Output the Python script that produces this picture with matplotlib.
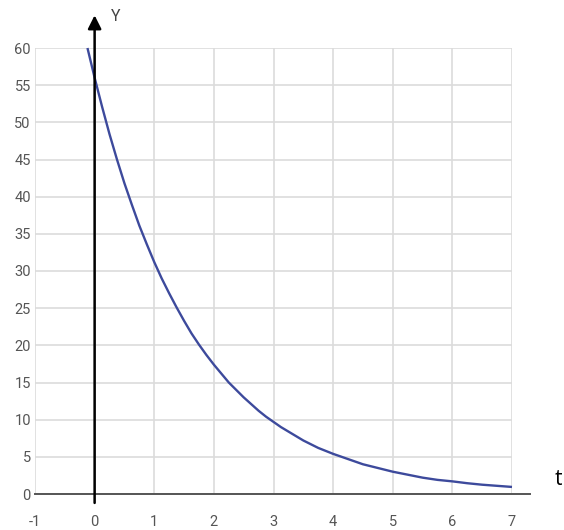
import matplotlib
matplotlib.use('Agg')
import matplotlib.pyplot as plt

plt.rcParams['font.family'] = ['Roboto', 'DejaVu Sans']
plt.rcParams['axes.unicode_minus'] = False

# decay curve, values read at each step of t
t_vals = [-0.12, -0.06, 0, 0.125, 0.25, 0.375, 0.5, 0.625, 0.75, 0.875, 1, 1.125,
          1.25, 1.375, 1.5, 1.625, 1.75, 1.875, 2, 2.125, 2.25, 2.375, 2.5, 2.625,
          2.75, 2.875, 3, 3.125, 3.25, 3.375, 3.5, 3.625, 3.75, 3.875, 4, 4.25,
          4.5, 4.75, 5, 5.25, 5.5, 5.75, 6, 6.25, 6.5, 6.75, 7]
y_vals = [60.0, 58.0, 56.0, 52.1, 48.4, 45.0, 41.8, 38.9, 36.1, 33.6, 31.2, 29.0,
          27.0, 25.1, 23.3, 21.6, 20.1, 18.7, 17.4, 16.2, 15.0, 14.0, 13.0, 12.1,
          11.2, 10.4, 9.7, 9.0, 8.4, 7.8, 7.2, 6.7, 6.2, 5.8, 5.4, 4.7,
          4.0, 3.5, 3.0, 2.6, 2.2, 1.9, 1.7, 1.45, 1.25, 1.1, 0.95]
x_ticks = [-1, 0, 1, 2, 3, 4, 5, 6, 7]
y_ticks = [0, 5, 10, 15, 20, 25, 30, 35, 40, 45, 50, 55, 60]

W, H = 564, 530
fig = plt.figure(figsize=(W / 100, H / 100), dpi=100)
ax = fig.add_axes([35 / W, (H - 494) / H, (512 - 35) / W, (494 - 48) / H])

ax.set_xlim(-1, 7)
ax.set_ylim(0, 60)
ax.set_xticks(x_ticks)
ax.set_yticks(y_ticks)
ax.grid(True, color='#dcdcdc', linewidth=1.2)
ax.set_axisbelow(True)
for s in ax.spines.values():
    s.set_visible(False)
ax.tick_params(length=0, labelsize=10.5, labelcolor='#555555')
ax.tick_params(axis='x', pad=15)
ax.tick_params(axis='y', pad=3)

# horizontal axis line, runs a bit past the last gridline
ax.plot([-1, 7.3], [0, 0], color='#555555', linewidth=1.4, clip_on=False, zorder=3)

# vertical axis with arrow head
ax.annotate('', xy=(0, 64.4), xytext=(0, -1.2),
            arrowprops=dict(arrowstyle='-|>', color='black', lw=1.8,
                            mutation_scale=20, shrinkA=0, shrinkB=0),
            annotation_clip=False, zorder=5)

ax.plot(t_vals, y_vals, color='#3d4a9c', linewidth=1.7, clip_on=False, zorder=4,
        solid_joinstyle='round', solid_capstyle='butt')

ax.text(0.28, 64.3, 'Y', fontsize=11.5, color='#444444', ha='left', va='center')
ax.text(7.77, 1.9, 't', fontsize=15, color='black', ha='center', va='center',
        family=['Open Sans', 'DejaVu Sans'])

fig.savefig('out.png', dpi=100)
